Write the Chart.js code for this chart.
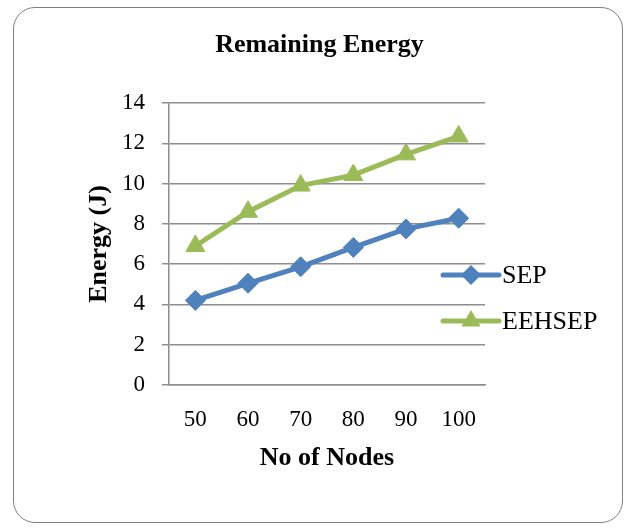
<!DOCTYPE html>
<html>
<head>
<meta charset="utf-8">
<title>Remaining Energy</title>
<script src="https://cdn.jsdelivr.net/npm/chart.js@4/dist/chart.umd.min.js"></script>
<style>
    html, body { margin: 0; padding: 0; background: #fff; }
    #wrap { position: relative; width: 629px; height: 531px; }
    #frame {
        position: absolute; left: 13px; top: 7px; width: 608px; height: 514px;
        border: 1.5px solid #7f7f7f; border-radius: 22px; pointer-events: none;
    }
</style>
</head>
<body>
<div id="wrap">
    <canvas id="energyChart" width="629" height="531"></canvas>
    <div id="frame"></div>
</div>
<script>
// chart data
const nodes = ['50', '60', '70', '80', '90', '100'];
const sepEnergy = [4.2, 5.05, 5.87, 6.83, 7.75, 8.28];
const eehsepEnergy = [6.9, 8.6, 9.9, 10.42, 11.45, 12.34];
const yTicks = [0, 2, 4, 6, 8, 10, 12, 14];

const serif = "'Liberation Serif', 'Times New Roman', serif";
const gridColor = '#8e8e8e';

// legend drawn on the right, overlapping the plot like the original
const sideLegend = {
    id: 'sideLegend',
    afterDraw(chart) {
        const ctx = chart.ctx;
        const area = chart.chartArea;
        const x0 = area.right - 42;
        const x1 = area.right + 14;
        const xm = (x0 + x1) / 2;
        chart.data.datasets.forEach((ds, i) => {
            const y = area.top + 172 + i * 46;
            ctx.save();
            ctx.strokeStyle = ds.borderColor;
            ctx.lineWidth = ds.borderWidth;
            ctx.lineCap = 'round';
            ctx.beginPath();
            ctx.moveTo(x0, y);
            ctx.lineTo(x1, y);
            ctx.stroke();
            ctx.fillStyle = ds.borderColor;
            ctx.beginPath();
            const r = ds.pointRadius;
            if (ds.pointStyle === 'triangle') {
                ctx.moveTo(xm, y - r);
                ctx.lineTo(xm + r * 0.866, y + r / 2);
                ctx.lineTo(xm - r * 0.866, y + r / 2);
            } else {
                ctx.moveTo(xm - r, y);
                ctx.lineTo(xm, y - r);
                ctx.lineTo(xm + r, y);
                ctx.lineTo(xm, y + r);
            }
            ctx.closePath();
            ctx.fill();
            ctx.fillStyle = '#000';
            ctx.font = '26px ' + serif;
            ctx.textBaseline = 'middle';
            ctx.textAlign = 'left';
            ctx.fillText(ds.label, x1 + 3, y + 1);
            ctx.restore();
        });
    }
};

const ctx = document.getElementById('energyChart').getContext('2d');
const energyChart = new Chart(ctx, {
    type: 'line',
    data: {
        labels: nodes,
        datasets: [
            {
                label: 'SEP',
                data: sepEnergy,
                borderColor: '#4f81bd',
                backgroundColor: '#4f81bd',
                borderWidth: 5,
                pointStyle: 'rectRot',
                pointRadius: 10,
                pointBorderWidth: 1,
                tension: 0
            },
            {
                label: 'EEHSEP',
                data: eehsepEnergy,
                borderColor: '#9bbb59',
                backgroundColor: '#9bbb59',
                borderWidth: 5,
                pointStyle: 'triangle',
                pointRadius: 11,
                pointBorderWidth: 1,
                tension: 0
            }
        ]
    },
    options: {
        responsive: false,
        animation: false,
        layout: { padding: { left: 10, right: 0, top: 0, bottom: 53 } },
        plugins: {
            legend: { display: false },
            tooltip: { enabled: false },
            title: {
                display: true,
                text: 'Remaining Energy',
                color: '#000',
                font: { family: serif, size: 26, weight: 'bold' },
                padding: { top: 30, bottom: 41.8 }
            }
        },
        scales: {
            x: {
                offset: true,
                grid: { display: false },
                border: { display: true, color: gridColor, width: 1.5 },
                ticks: { color: '#000', font: { family: serif, size: 23 }, padding: 13, maxRotation: 0 },
                title: {
                    display: true,
                    text: 'No of Nodes',
                    color: '#000',
                    font: { family: serif, size: 26, weight: 'bold' }
                },
                afterFit(scale) { scale.height = 93; }
            },
            y: {
                min: 0,
                max: 14,
                afterBuildTicks(scale) { scale.ticks = yTicks.map(v => ({ value: v })); },
                grid: { color: gridColor, lineWidth: 1.5, tickLength: 7 },
                border: { display: true, color: gridColor, width: 1.5 },
                ticks: { color: '#000', font: { family: serif, size: 23 }, padding: 17 },
                title: {
                    display: true,
                    text: 'Energy (J)',
                    color: '#000',
                    font: { family: serif, size: 26, weight: 'bold' },
                    padding: { top: 73.4, bottom: 4 }
                },
                afterFit(scale) { scale.width = 159; }
            },
            // empty right gutter that holds the space used by the legend
            gutter: {
                type: 'linear',
                position: 'right',
                grid: { display: false },
                border: { display: false },
                ticks: { display: false },
                afterFit(scale) { scale.width = 144; }
            }
        }
    },
    plugins: [sideLegend]
});
</script>
</body>
</html>
